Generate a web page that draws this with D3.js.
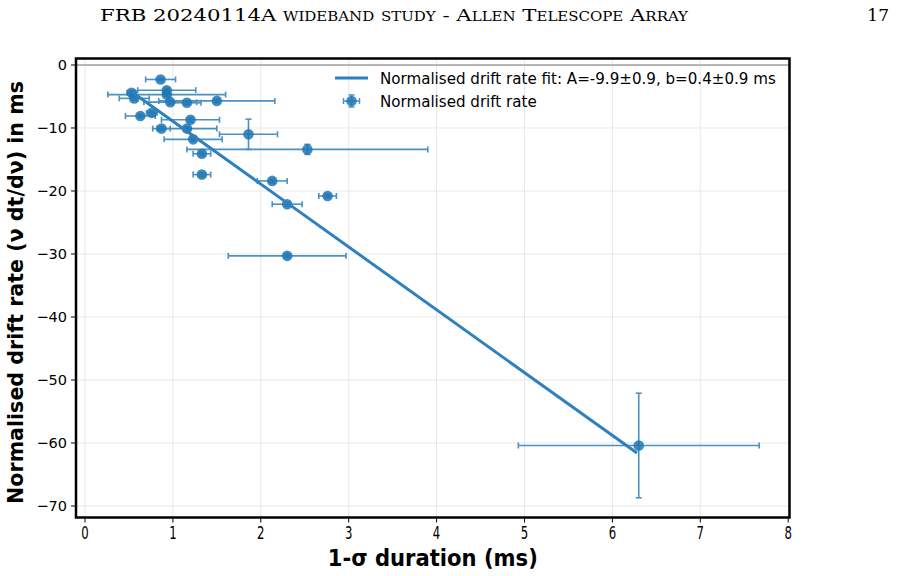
<!DOCTYPE html>
<html>
<head>
<meta charset="utf-8">
<script src="https://cdn.jsdelivr.net/npm/d3@7"></script>
<style>
  body { margin: 0; background: #fff; }
  svg { display: block; }
</style>
</head>
<body>
<svg id="chart" width="917" height="576"></svg>
<script>
// measured points: duration (ms), normalised drift rate, and their errors
const durations = [0.86, 0.93, 0.93, 0.53, 0.56, 0.97, 1.16, 1.50, 0.63, 0.76, 1.20, 0.87,
                   1.16, 1.23, 1.86, 2.53, 1.33, 1.33, 2.13, 2.76, 2.30, 2.30, 6.30];
const driftRates = [-2.3, -4.0, -4.7, -4.4, -5.3, -5.9, -6.0, -5.7, -8.1, -7.6, -8.7, -10.1,
                    -10.1, -11.8, -11.0, -13.4, -14.1, -17.4, -18.4, -20.8, -22.1, -30.3, -60.4];
const durationErr = [0.17, 0.33, 0.67, 0.05, 0.17, 0.30, 0.16, 0.66, 0.17, 0.06, 0.33, 0.10,
                     0.34, 0.33, 0.33, 1.37, 0.10, 0.10, 0.17, 0.10, 0.17, 0.67, 1.37];
const driftErr = [0.2, 0.3, 0.3, 0.3, 0.3, 0.3, 0.3, 0.3, 0.3, 0.3, 0.3, 0.3,
                  0.3, 0.3, 2.4, 0.8, 0.3, 0.3, 0.3, 0.3, 0.3, 0.3, 8.3];

// fit line end points
const fitX = [0.53, 6.28];
const fitY = [-4.25, -61.6];

const xTicks = [0, 1, 2, 3, 4, 5, 6, 7, 8];
const yTicks = [0, -10, -20, -30, -40, -50, -60, -70];

const legendLabels = ["Normalised drift rate fit: A=-9.9\u00b10.9, b=0.4\u00b10.9 ms", "Normalised drift rate"];

const svg = d3.select("#chart");
const pLeft = 76, pRight = 789.5, pTop = 58.5, pBottom = 517.5;
const blue = "#1f77b4";

const x = d3.scaleLinear().domain([-0.1024, 8.015]).range([pLeft, pRight]);
const y = d3.scaleLinear().domain([1.03, -71.83]).range([pTop, pBottom]);

// page header
svg.append("text")
    .attr("x", 100).attr("y", 21)
    .attr("textLength", 588).attr("lengthAdjust", "spacingAndGlyphs")
    .style("font-family", "'DejaVu Serif', 'Liberation Serif', serif")
    .style("font-size", "17px")
    .style("font-variant", "small-caps")
    .text("FRB 20240114A wideband study - Allen Telescope Array");
svg.append("text")
    .attr("x", 889).attr("y", 21)
    .attr("text-anchor", "end")
    .style("font-family", "'DejaVu Serif', 'Liberation Serif', serif")
    .style("font-size", "17px")
    .text("17");

// grid
const grid = svg.append("g").attr("stroke", "#e8e8e8").attr("stroke-width", 1);
grid.selectAll(".gx").data(xTicks).enter().append("line")
    .attr("x1", d => x(d)).attr("x2", d => x(d))
    .attr("y1", pTop).attr("y2", pBottom);
grid.selectAll(".gy").data(yTicks).enter().append("line")
    .attr("x1", pLeft).attr("x2", pRight)
    .attr("y1", d => y(d)).attr("y2", d => y(d));

// zero line
svg.append("line")
    .attr("x1", pLeft).attr("x2", pRight)
    .attr("y1", y(0)).attr("y2", y(0))
    .attr("stroke", "#a0a0a0").attr("stroke-width", 1.5);

// error bars
const pts = durations.map((d, i) => ({ x: d, y: driftRates[i], xe: durationErr[i], ye: driftErr[i] }));
const eb = svg.append("g").attr("stroke", blue).attr("stroke-width", 1.6).attr("opacity", 0.8);
pts.forEach(p => {
    eb.append("line").attr("x1", x(p.x - p.xe)).attr("x2", x(p.x + p.xe))
        .attr("y1", y(p.y)).attr("y2", y(p.y));
    eb.append("line").attr("x1", x(p.x)).attr("x2", x(p.x))
        .attr("y1", y(p.y - p.ye)).attr("y2", y(p.y + p.ye));
    [p.x - p.xe, p.x + p.xe].forEach(v => {
        eb.append("line").attr("x1", x(v)).attr("x2", x(v))
            .attr("y1", y(p.y) - 3).attr("y2", y(p.y) + 3);
    });
    [p.y - p.ye, p.y + p.ye].forEach(v => {
        eb.append("line").attr("x1", x(p.x) - 3).attr("x2", x(p.x) + 3)
            .attr("y1", y(v)).attr("y2", y(v));
    });
});

// markers
svg.append("g").selectAll("circle").data(pts).enter().append("circle")
    .attr("cx", d => x(d.x)).attr("cy", d => y(d.y))
    .attr("r", 5.3)
    .attr("fill", blue).attr("opacity", 0.85);

// fit line
svg.append("line")
    .attr("x1", x(fitX[0])).attr("y1", y(fitY[0]))
    .attr("x2", x(fitX[1])).attr("y2", y(fitY[1]))
    .attr("stroke", "#2f80bd").attr("stroke-width", 3);

// frame
svg.append("rect")
    .attr("x", pLeft).attr("y", pTop)
    .attr("width", pRight - pLeft).attr("height", pBottom - pTop)
    .attr("fill", "none").attr("stroke", "#000").attr("stroke-width", 2.5);

// x axis
const xAxis = svg.append("g");
xAxis.selectAll("line").data(xTicks).enter().append("line")
    .attr("x1", d => x(d)).attr("x2", d => x(d))
    .attr("y1", pBottom + 1).attr("y2", pBottom + 5)
    .attr("stroke", "#000");
xAxis.selectAll("text").data(xTicks).enter().append("text")
    .attr("transform", d => `translate(${x(d)},${pBottom + 21.5}) scale(0.65,1)`)
    .attr("text-anchor", "middle")
    .style("font-family", "'DejaVu Sans', sans-serif")
    .style("font-size", "18px")
    .text(d => d);

// y axis
const yAxis = svg.append("g");
yAxis.selectAll("line").data(yTicks).enter().append("line")
    .attr("x1", pLeft - 5).attr("x2", pLeft - 1)
    .attr("y1", d => y(d)).attr("y2", d => y(d))
    .attr("stroke", "#000");
yAxis.selectAll("text").data(yTicks).enter().append("text")
    .attr("x", pLeft - 9).attr("y", d => y(d) + 5)
    .attr("text-anchor", "end")
    .style("font-family", "'DejaVu Sans', sans-serif")
    .style("font-size", "14.5px")
    .text(d => d3.format("d")(d).replace("-", "\u2212"));

// axis titles
svg.append("text")
    .attr("transform", `translate(${(pLeft + pRight) / 2},566) scale(0.96,1.05)`)
    .attr("text-anchor", "middle")
    .style("font-family", "'DejaVu Sans', sans-serif")
    .style("font-weight", "bold")
    .style("font-size", "22px")
    .text("1-\u03c3 duration (ms)");
svg.append("text")
    .attr("transform", `translate(23,${(pTop + pBottom) / 2 + 4.5}) rotate(-90)`)
    .attr("text-anchor", "middle")
    .style("font-family", "'DejaVu Sans', sans-serif")
    .style("font-weight", "bold")
    .style("font-size", "20.6px")
    .text("Normalised drift rate (\u03bd dt/d\u03bd) in ms");

// legend
const lg = svg.append("g").attr("transform", "translate(335,78)");
lg.append("line").attr("x1", 0).attr("x2", 33).attr("y1", 0).attr("y2", 0)
    .attr("stroke", "#2f80bd").attr("stroke-width", 3);
const lm = lg.append("g").attr("transform", "translate(16.5,23)")
    .attr("stroke", blue).attr("stroke-width", 1.5).attr("opacity", 0.8);
lm.append("line").attr("x1", -8).attr("x2", 8).attr("y1", 0).attr("y2", 0);
lm.append("line").attr("x1", 0).attr("x2", 0).attr("y1", -6).attr("y2", 6);
lm.append("line").attr("x1", -8).attr("x2", -8).attr("y1", -3).attr("y2", 3);
lm.append("line").attr("x1", 8).attr("x2", 8).attr("y1", -3).attr("y2", 3);
lm.append("line").attr("x1", -3).attr("x2", 3).attr("y1", -6).attr("y2", -6);
lm.append("line").attr("x1", -3).attr("x2", 3).attr("y1", 6).attr("y2", 6);
lg.append("circle").attr("cx", 16.5).attr("cy", 23).attr("r", 5.3)
    .attr("fill", blue).attr("opacity", 0.85);
lg.selectAll("text").data(legendLabels).enter().append("text")
    .attr("x", 45).attr("y", (d, i) => i * 23 + 5.5)
    .style("font-family", "'DejaVu Sans', sans-serif")
    .style("font-size", "15.1px")
    .text(d => d);
</script>
</body>
</html>
